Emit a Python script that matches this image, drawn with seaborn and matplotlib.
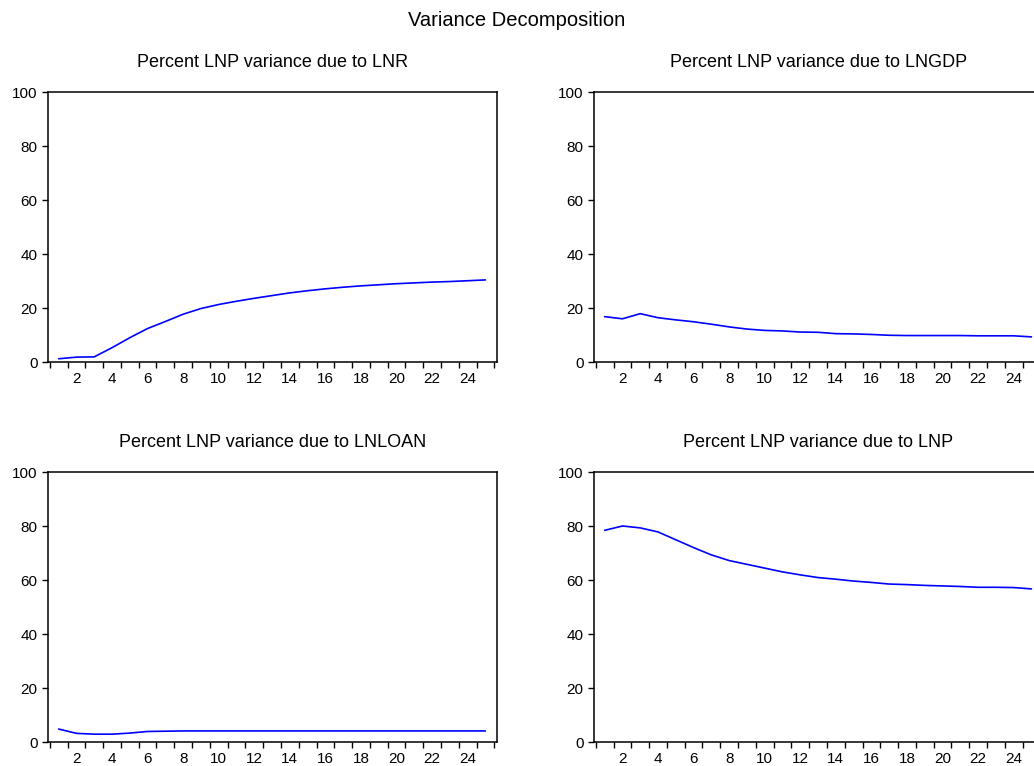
import numpy as np
import pandas as pd
import matplotlib
matplotlib.use("Agg")
import matplotlib.pyplot as plt
import seaborn as sns

# --------------------------------------------------
# Data

periods = list(range(1, 26))

lnr = [1.2, 1.8, 1.9, 5.3, 9.0, 12.4, 15.0, 17.7, 19.8, 21.3,
       22.5, 23.6, 24.6, 25.6, 26.4, 27.1, 27.7, 28.2, 28.6, 29.0,
       29.3, 29.6, 29.8, 30.1, 30.4]

lngdp = [16.8, 16.0, 17.9, 16.4, 15.6, 14.9, 14.0, 13.0, 12.2, 11.7,
         11.5, 11.1, 11.0, 10.5, 10.4, 10.2, 9.9, 9.8, 9.8, 9.8,
         9.8, 9.7, 9.7, 9.7, 9.3]

lnloan = [4.8, 3.2, 2.9, 2.9, 3.3, 3.9, 4.0, 4.1, 4.1, 4.1,
          4.1, 4.1, 4.1, 4.1, 4.1, 4.1, 4.1, 4.1, 4.1, 4.1,
          4.1, 4.1, 4.1, 4.1, 4.1]

lnp = [78.4, 80.0, 79.3, 77.8, 74.9, 72.0, 69.3, 67.2, 65.8, 64.4,
       63.0, 61.9, 60.9, 60.3, 59.6, 59.1, 58.5, 58.3, 58.0, 57.8,
       57.6, 57.3, 57.3, 57.2, 56.7]

titles = [
    "Percent LNP variance due to LNR",
    "Percent LNP variance due to LNGDP",
    "Percent LNP variance due to LNLOAN",
    "Percent LNP variance due to LNP",
]

series = [lnr, lngdp, lnloan, lnp]

# --------------------------------------------------
# Style

sns.set_theme(style="ticks")
plt.rcParams["font.family"] = ["Liberation Sans", "DejaVu Sans"]
plt.rcParams["text.color"] = "black"
plt.rcParams["xtick.color"] = "black"
plt.rcParams["ytick.color"] = "black"
plt.rcParams["xtick.labelcolor"] = "black"
plt.rcParams["ytick.labelcolor"] = "black"

fig = plt.figure(figsize=(10.34, 7.66), dpi=100)
fig.patch.set_facecolor("white")

W, H = 1034, 766
positions = [
    (48, 92, 449, 270),
    (594, 92, 449, 270),
    (48, 472, 449, 270),
    (594, 472, 449, 270),
]

for (px, py, pw, ph), title, vals in zip(positions, titles, series):

    ax = fig.add_axes([px / W, 1 - (py + ph) / H, pw / W, ph / H])

    df = pd.DataFrame({"Period": periods, "Value": vals})

    sns.lineplot(data=df, x="Period", y="Value", ax=ax,
                 color="#0000ff", linewidth=1.2)

    ax.set_xlim(0.4, 25.65)
    ax.set_ylim(0, 100)

    ax.set_xticks(range(2, 25, 2))
    ax.set_xticks(np.arange(0.5, 26, 1), minor=True)
    ax.set_yticks(range(0, 101, 20))

    ax.tick_params(axis="x", which="major", length=0, pad=7, labelsize=11)
    ax.tick_params(axis="x", which="minor", length=4.5, width=1.0,
                   direction="out", color="black")
    ax.tick_params(axis="y", which="major", length=4.5, width=1.0,
                   direction="out", pad=3, labelsize=11, color="black")

    for s in ax.spines.values():
        s.set_visible(True)
        s.set_linewidth(1.1)
        s.set_color("black")

    ax.set_xlabel("")
    ax.set_ylabel("")
    ax.set_title(title, fontsize=13, pad=18, color="black")

fig.suptitle("Variance Decomposition", fontsize=14.5, y=1 - 20 / H,
             va="center", color="black")

fig.savefig("out.png", dpi=100, facecolor="white")
